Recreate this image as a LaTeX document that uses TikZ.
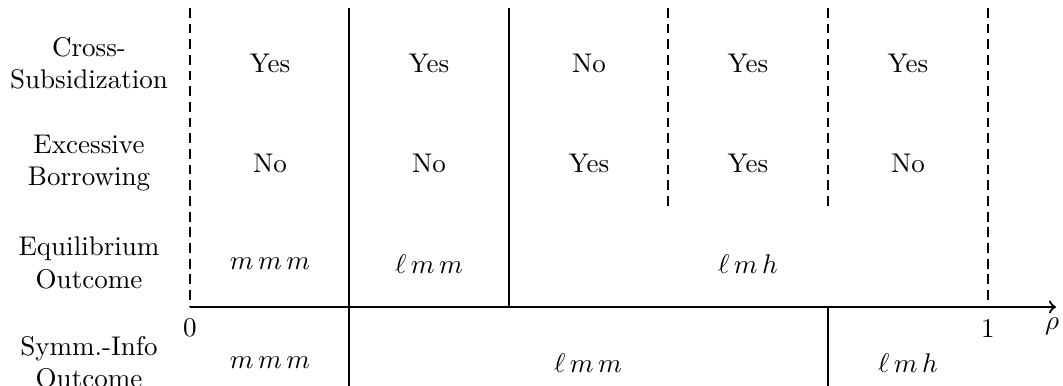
\documentclass[tikz,border=0pt]{standalone}
\begin{document}
\begin{tikzpicture}[x=0.37pt,y=-0.37pt,
  sep/.style={line width=0.8pt},
  dsep/.style={line width=0.8pt, dash pattern=on 3.6pt off 2.2pt},
  rowlab/.style={align=center, font=\normalsize, inner sep=0pt},
  cell/.style={inner sep=0pt}]
\useasboundingbox (0,0) rectangle (1063,386);
\begin{scope}
\clip (0,0) rectangle (1063,386);
% vertical separators
\draw[dsep] (190,8) -- (190,307);
\draw[sep] (349,8) -- (349,390);
\draw[sep] (509,8) -- (509,307);
\draw[dsep] (668,8) -- (668,207);
\draw[dsep] (828,8) -- (828,207);
\draw[sep] (828,307) -- (828,390);
\draw[dsep] (988,8) -- (988,307);
% axis
\coordinate (o) at (190,307);
\coordinate (e) at (1056,307);
\draw[sep,->] (o) -- (e);
\end{scope}
\node[cell] (z0) at (190,328) {$0$};
\node[cell] (z1) at (988,329) {$1$};
\node[cell] (rho) at (1052,326) {$\rho$};
% row labels
\node[rowlab] (l1) at (89,63) {Cross-\\Subsidization};
\node[rowlab] (l2) at (89,163) {Excessive\\Borrowing};
\node[rowlab] (l3) at (89,263) {Equilibrium\\Outcome};
\node[rowlab] (l4) at (89,362) {Symm.-Info\\Outcome};
% row 1
\node[cell] (a1) at (270,63) {Yes};
\node[cell] (a2) at (429,63) {Yes};
\node[cell] (a3) at (589,63) {No};
\node[cell] (a4) at (748,63) {Yes};
\node[cell] (a5) at (908,63) {Yes};
% row 2
\node[cell] (b1) at (270,163) {No};
\node[cell] (b2) at (429,163) {No};
\node[cell] (b3) at (589,163) {Yes};
\node[cell] (b4) at (748,163) {Yes};
\node[cell] (b5) at (908,163) {No};
% row 3
\node[cell] (c1) at (270,264) {$m\,m\,m$};
\node[cell] (c2) at (429,264) {$\ell\,m\,m$};
\node[cell] (c3) at (748,264) {$\ell\,m\,h$};
% row 4
\node[cell] (d1) at (270,363) {$m\,m\,m$};
\node[cell] (d2) at (588,363) {$\ell\,m\,m$};
\node[cell] (d3) at (908,363) {$\ell\,m\,h$};
\end{tikzpicture}
\end{document}
